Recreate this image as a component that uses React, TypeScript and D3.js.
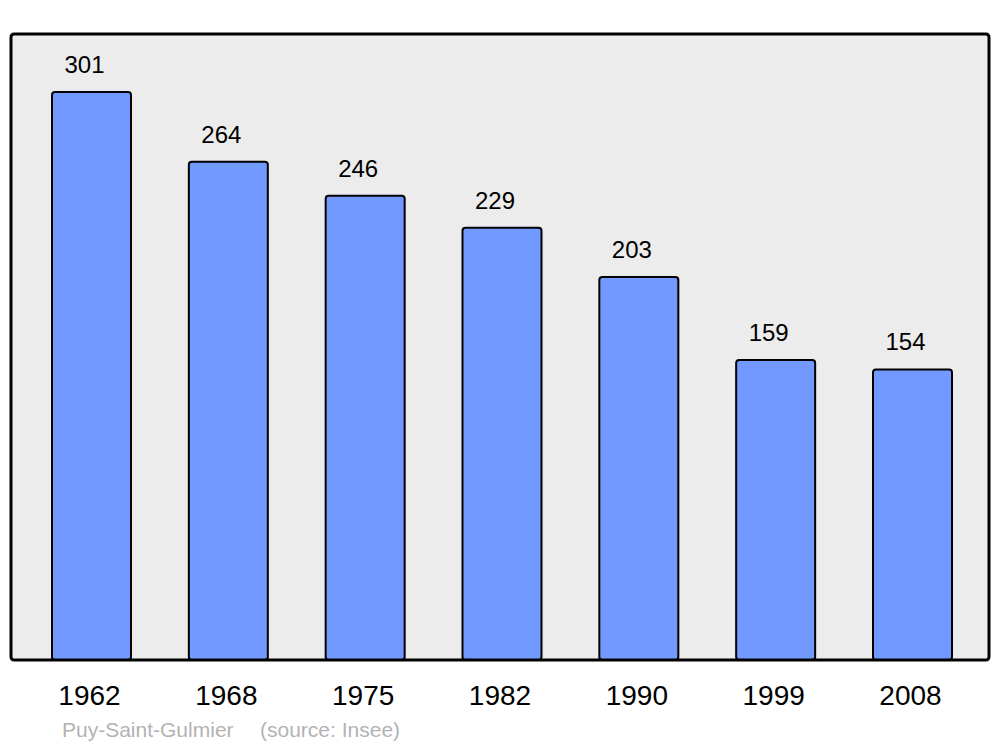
import React, { useEffect, useRef } from "react";
import * as d3 from "d3";

const years = ["1962", "1968", "1975", "1982", "1990", "1999", "2008"];
const population = [301, 264, 246, 229, 203, 159, 154];
const town = "Puy-Saint-Gulmier";
const source = "(source: Insee)";

const App = () => {
  const svgRef = useRef<SVGSVGElement>(null);

  useEffect(() => {
    const width = 1000;
    const height = 747;
    const panel = { left: 11, top: 34, right: 989, bottom: 660 };
    const barWidth = 79;

    const svg = d3
      .select(svgRef.current)
      .attr("width", width)
      .attr("height", height)
      .style("font-family", "'Liberation Sans', Arial, sans-serif");
    svg.selectAll("*").remove();

    const x = d3.scalePoint().domain(years).range([91.5, 912.5]);
    const y = d3.scaleLinear().domain([0, 301]).range([panel.bottom, 92]);

    // panel background
    svg
      .append("rect")
      .attr("x", panel.left)
      .attr("y", panel.top)
      .attr("width", panel.right - panel.left)
      .attr("height", panel.bottom - panel.top)
      .attr("rx", 3)
      .attr("fill", "#ececec");

    const data = years.map((yr, i) => ({ year: yr, value: population[i] }));

    const g = svg.append("g");

    g.selectAll("rect.bar")
      .data(data)
      .join("rect")
      .attr("class", "bar")
      .attr("x", (d) => x(d.year)! - barWidth / 2)
      .attr("y", (d) => y(d.value))
      .attr("width", barWidth)
      .attr("height", (d) => y(0) - y(d.value))
      .attr("rx", 3)
      .attr("fill", "#7299ff")
      .attr("stroke", "#000")
      .attr("stroke-width", 2);

    // panel border on top of the bars
    svg
      .append("rect")
      .attr("x", panel.left)
      .attr("y", panel.top)
      .attr("width", panel.right - panel.left)
      .attr("height", panel.bottom - panel.top)
      .attr("rx", 3)
      .attr("fill", "none")
      .attr("stroke", "#000")
      .attr("stroke-width", 3);

    g.selectAll("text.value")
      .data(data)
      .join("text")
      .attr("class", "value")
      .attr("x", (d) => x(d.year)! - 7)
      .attr("y", (d) => y(d.value) - 19)
      .attr("text-anchor", "middle")
      .style("font-size", "24px")
      .attr("fill", "#000")
      .text((d) => d.value);

    svg
      .append("g")
      .selectAll("text.year")
      .data(data)
      .join("text")
      .attr("class", "year")
      .attr("x", (d) => x(d.year)! - 2)
      .attr("y", 705)
      .attr("text-anchor", "middle")
      .style("font-size", "28px")
      .attr("fill", "#000")
      .text((d) => d.year);

    svg
      .append("text")
      .attr("x", 62)
      .attr("y", 737)
      .style("font-size", "21px")
      .attr("fill", "#b3b3b3")
      .text(town);

    svg
      .append("text")
      .attr("x", 260)
      .attr("y", 737)
      .style("font-size", "21px")
      .attr("fill", "#b3b3b3")
      .text(source);
  }, []);

  return (
    <svg
      ref={svgRef}
      style={{ position: "absolute", left: 0, top: 0, background: "#fff" }}
    ></svg>
  );
};

export default App;
